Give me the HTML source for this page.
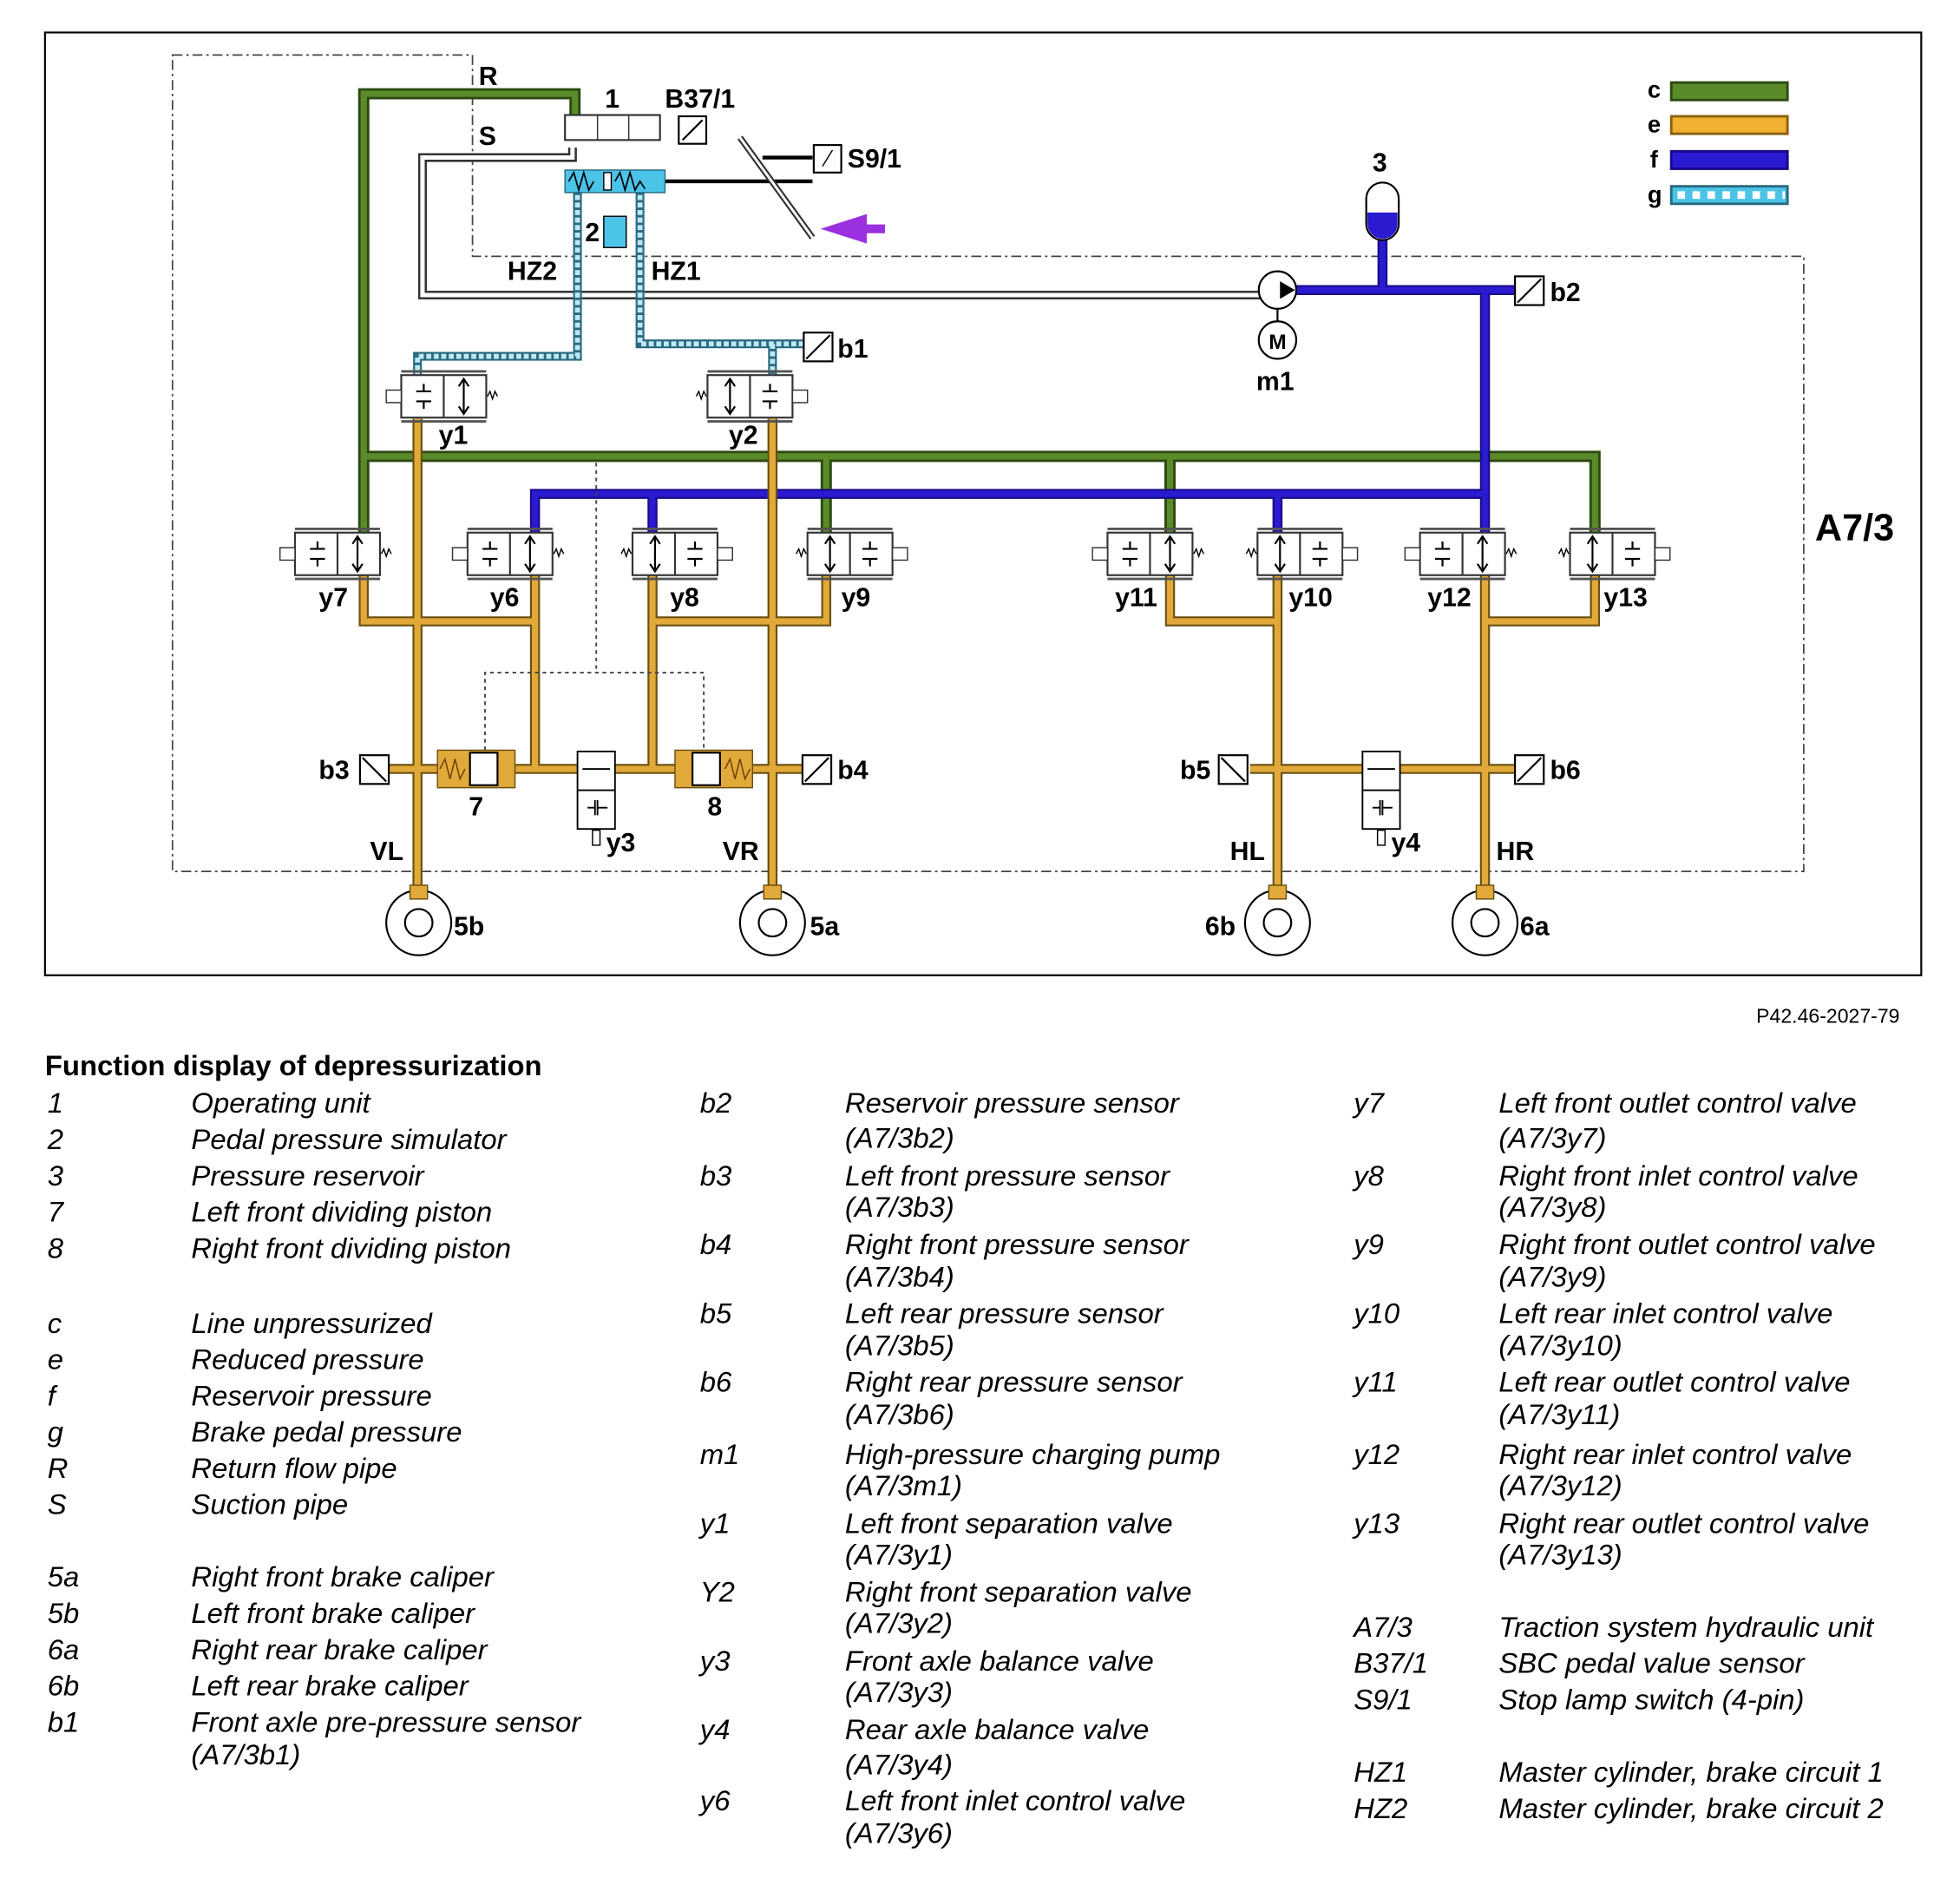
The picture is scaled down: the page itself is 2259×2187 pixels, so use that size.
<!DOCTYPE html>
<html><head><meta charset="utf-8"><style>
html,body{margin:0;padding:0;background:#fff}
svg{display:block}
text{font-family:"Liberation Sans",sans-serif}
.lb{font-weight:bold;font-size:21px}
.t{font-style:italic;font-size:22.8px}
.h{font-weight:bold;font-size:22.8px}
</style></head><body>
<svg width="2259" height="2187" viewBox="0 0 1568 1518" preserveAspectRatio="none" xmlns="http://www.w3.org/2000/svg">
<defs>
<g id="valve">
<rect x="-34" y="-17" width="68" height="34" fill="#fff" stroke="#333" stroke-width="1.5"/>
<line x1="0" y1="-17" x2="0" y2="17" stroke="#333" stroke-width="1.5"/>
<line x1="-34" y1="-20" x2="34" y2="-20" stroke="#555" stroke-width="2"/>
<line x1="-34" y1="20" x2="34" y2="20" stroke="#555" stroke-width="2"/>
<line x1="16" y1="-14" x2="16" y2="14" stroke="#000" stroke-width="1.5"/>
<path d="M12,-8 L16,-14 L20,-8 M12,8 L16,14 L20,8" fill="none" stroke="#000" stroke-width="1.5"/>
<path d="M-22,-4 h12 M-16,-4 v-6 M-22,4 h12 M-16,4 v6" stroke="#000" stroke-width="1.5" fill="none"/>
<rect x="-46" y="-5" width="12" height="10" fill="#fff" stroke="#333"/>
<path d="M35,0 l2,-4 l2,6 l2,-6 l2,4" fill="none" stroke="#000"/>
</g>
</defs>
<rect x="36" y="26" width="1501" height="754" fill="none" stroke="#000" stroke-width="1.5"/>
<path d="M138,44 H378 V205 H1443 V697 H138 Z" fill="none" stroke="#444" stroke-width="1.2" stroke-dasharray="8,3,2,3"/>
<text x="1452" y="432" class="lb" style="font-size:30px">A7/3</text>
<text x="383" y="68" class="lb">R</text><text x="383" y="116" class="lb">S</text>
<path d="M458,118 V126 H338 V236 H1010" fill="none" stroke="#333" stroke-width="7"/>
<path d="M458,118 V126 H338 V236 H1010" fill="none" stroke="#fff" stroke-width="3.5"/>
<g fill="none" stroke-linejoin="miter">
<path d="M460,95 V75 H291 V440 M291,365 H1276 V440 M661,365 V440 M936,365 V440" stroke="#2d4a10" stroke-width="9"/>
<path d="M460,95 V75 H291 V440 M291,365 H1276 V440 M661,365 V440 M936,365 V440" stroke="#5b8a2a" stroke-width="5"/>
<path d="M1106,170 V232 M1030,232 H1212 M1188,232 V440 M428,440 V395 H1188 M522,395 V440 M1022,395 V440" stroke="#1a0a8a" stroke-width="8"/>
<path d="M1106,170 V232 M1030,232 H1212 M1188,232 V440 M428,440 V395 H1188 M522,395 V440 M1022,395 V440" stroke="#2a1ad0" stroke-width="5"/>
<path d="M334,335 V712 M618,335 V712 M291,460 V497 H428 M428,460 V615 M522,460 V615 M522,497 H661 V460 M300,615 H650 M1022,460 V712 M1188,460 V712 M936,460 V497 H1022 M1188,497 H1276 V460 M1000,615 H1212" stroke="#6b5010" stroke-width="8"/>
<path d="M334,335 V712 M618,335 V712 M291,460 V497 H428 M428,460 V615 M522,460 V615 M522,497 H661 V460 M300,615 H650 M1022,460 V712 M1188,460 V712 M936,460 V497 H1022 M1188,497 H1276 V460 M1000,615 H1212" stroke="#e0a93a" stroke-width="5"/>
<path d="M462,150 V285 H334 V300 M512,150 V275 H643 M618,275 V300" stroke="#2a6a80" stroke-width="7"/>
<path d="M462,150 V285 H334 V300 M512,150 V275 H643 M618,275 V300" stroke="#bfe8f5" stroke-width="4" stroke-dasharray="4,2"/>
<path d="M530,145 H650 M610,126 H650" stroke="#000" stroke-width="3"/>
<path d="M592,110 L650,190" stroke="#333" stroke-width="5"/><path d="M592,110 L650,190" stroke="#fff" stroke-width="2"/>
</g>
<path d="M708,183 H690 V176 L668,183 L690,190 V183" fill="#9b30e0" stroke="#9b30e0" stroke-width="7"/>
<rect x="452" y="92" width="76" height="20" fill="#fff" stroke="#333" stroke-width="1.5"/>
<path d="M478,92 V112 M503,92 V112" stroke="#333"/>
<rect x="452" y="136" width="80" height="18" fill="#4cc4e8" stroke="#2a6a80"/>
<path d="M455,145 l4,-7 l4,14 l4,-14 l4,14 l4,-7 M492,145 l4,-7 l4,14 l4,-14 l4,14 l4,-7 l4,6" fill="none" stroke="#000" stroke-width="1.2"/>
<rect x="483" y="138" width="6" height="14" fill="#fff" stroke="#000"/>
<rect x="483" y="173" width="18" height="25" fill="#4cc4e8" stroke="#000"/>
<text x="468" y="193" class="lb">2</text>
<text x="484" y="86" class="lb">1</text>
<text x="532" y="86" class="lb">B37/1</text>
<rect x="543" y="93" width="22" height="22" fill="#fff" stroke="#000" stroke-width="1.5"/><path d="M546,112 L562,96" stroke="#000" stroke-width="1.5"/>
<rect x="651" y="116" width="22" height="22" fill="#fff" stroke="#000" stroke-width="1.5"/><path d="M658,133 L666,120" stroke="#000"/>
<text x="678" y="134" class="lb">S9/1</text>
<text x="406" y="224" class="lb">HZ2</text><text x="521" y="224" class="lb">HZ1</text>
<rect x="1093" y="146" width="26" height="46" rx="13" fill="#fff" stroke="#000" stroke-width="1.5"/>
<path d="M1094,170 H1118 V179 A12,12 0 0 1 1094,179 Z" fill="#2a1ad0"/>
<text x="1098" y="137" class="lb">3</text>
<circle cx="1022" cy="232" r="15" fill="#fff" stroke="#000" stroke-width="1.5"/><path d="M1024,225 L1036,232 L1024,239 Z" fill="#000"/>
<line x1="1022" y1="247" x2="1022" y2="257" stroke="#000" stroke-width="1.5"/>
<circle cx="1022" cy="272" r="15" fill="#fff" stroke="#000" stroke-width="1.5"/>
<text x="1015" y="279" class="lb" style="font-size:17px">M</text>
<text x="1005" y="312" class="lb">m1</text>
<g fill="#fff" stroke="#000" stroke-width="1.5">
<rect x="1212" y="221" width="23" height="23"/><rect x="643" y="266" width="23" height="23"/>
<rect x="288" y="604" width="23" height="23"/><rect x="642" y="604" width="23" height="23"/>
<rect x="975" y="604" width="23" height="23"/><rect x="1212" y="604" width="23" height="23"/>
</g>
<path d="M1214,242 L1233,223 M645,287 L664,268 M290,606 L309,625 M644,625 L663,606 M977,606 L996,625 M1214,625 L1233,606" stroke="#000" stroke-width="1.5"/>
<text x="1240" y="241" class="lb">b2</text><text x="670" y="286" class="lb">b1</text>
<text x="255" y="623" class="lb">b3</text><text x="670" y="623" class="lb">b4</text>
<text x="944" y="623" class="lb">b5</text><text x="1240" y="623" class="lb">b6</text>
<use href="#valve" x="355" y="317"/><use href="#valve" x="600" y="317" transform="translate(1200,0) scale(-1,1)" />
<use href="#valve" x="270" y="443"/><use href="#valve" x="408" y="443"/>
<use href="#valve" x="540" y="443" transform="translate(1080,0) scale(-1,1)"/><use href="#valve" x="680" y="443" transform="translate(1360,0) scale(-1,1)"/>
<use href="#valve" x="920" y="443"/><use href="#valve" x="1040" y="443" transform="translate(2080,0) scale(-1,1)"/>
<use href="#valve" x="1170" y="443"/><use href="#valve" x="1290" y="443" transform="translate(2580,0) scale(-1,1)"/>
<text x="351" y="355" class="lb">y1</text><text x="583" y="355" class="lb">y2</text>
<text x="255" y="485" class="lb">y7</text><text x="392" y="485" class="lb">y6</text><text x="536" y="485" class="lb">y8</text><text x="673" y="485" class="lb">y9</text>
<text x="892" y="485" class="lb">y11</text><text x="1031" y="485" class="lb">y10</text><text x="1142" y="485" class="lb">y12</text><text x="1283" y="485" class="lb">y13</text>
<rect x="350" y="600" width="62" height="30" fill="#e0a93a" stroke="#6b5010"/>
<rect x="376" y="602" width="22" height="26" fill="#fff" stroke="#000" stroke-width="1.5"/>
<path d="M352,615 l4,-8 l4,16 l4,-16 l4,16 l4,-8" fill="none" stroke="#6b3a00"/>
<rect x="540" y="600" width="62" height="30" fill="#e0a93a" stroke="#6b5010"/>
<rect x="554" y="602" width="22" height="26" fill="#fff" stroke="#000" stroke-width="1.5"/>
<path d="M580,615 l4,-8 l4,16 l4,-16 l4,16 l4,-8" fill="none" stroke="#6b3a00"/>
<text x="375" y="652" class="lb">7</text><text x="566" y="652" class="lb">8</text>
<path d="M388,600 V538 H563 V600 M477,370 V538" fill="none" stroke="#444" stroke-width="1.3" stroke-dasharray="3,3"/>
<g fill="#fff" stroke="#000" stroke-width="1.3">
<rect x="462" y="601" width="30" height="62"/><line x1="462" y1="632" x2="492" y2="632"/>
<rect x="1090" y="601" width="30" height="62"/><line x1="1090" y1="632" x2="1120" y2="632"/>
</g>
<path d="M466,615 H488 M470,646 H476 M478,646 H486 M476,640 V652 M478,640 V652 M1094,615 H1116 M1098,646 H1104 M1106,646 H1114 M1104,640 V652 M1106,640 V652" stroke="#000" stroke-width="1.3"/>
<text x="485" y="681" class="lb">y3</text><text x="1113" y="681" class="lb">y4</text>
<rect x="474" y="664" width="6" height="12" fill="#fff" stroke="#000"/><rect x="1102" y="664" width="6" height="12" fill="#fff" stroke="#000"/>
<text x="296" y="688" class="lb">VL</text><text x="578" y="688" class="lb">VR</text>
<text x="984" y="688" class="lb">HL</text><text x="1197" y="688" class="lb">HR</text>
<g fill="#fff" stroke="#000" stroke-width="1.5">
<circle cx="335" cy="738" r="26"/><circle cx="335" cy="738" r="11"/>
<circle cx="618" cy="738" r="26"/><circle cx="618" cy="738" r="11"/>
<circle cx="1022" cy="738" r="26"/><circle cx="1022" cy="738" r="11"/>
<circle cx="1188" cy="738" r="26"/><circle cx="1188" cy="738" r="11"/>
</g>
<g fill="#e0a93a" stroke="#6b5010"><rect x="328" y="708" width="14" height="11"/><rect x="611" y="708" width="14" height="11"/><rect x="1015" y="708" width="14" height="11"/><rect x="1181" y="708" width="14" height="11"/></g>
<text x="363" y="748" class="lb">5b</text><text x="648" y="748" class="lb">5a</text><text x="964" y="748" class="lb">6b</text><text x="1216" y="748" class="lb">6a</text>
<text x="1318" y="78" class="lb" style="font-size:19px">c</text><rect x="1337" y="66" width="93" height="14" fill="#5b8a2a" stroke="#2d4a10" stroke-width="2"/>
<text x="1318" y="106" class="lb" style="font-size:19px">e</text><rect x="1337" y="93" width="93" height="14" fill="#f0b030" stroke="#8a6010" stroke-width="2"/>
<text x="1320" y="134" class="lb" style="font-size:19px">f</text><rect x="1337" y="121" width="93" height="14" fill="#2a1ad0" stroke="#1a0a8a" stroke-width="2"/>
<text x="1318" y="162" class="lb" style="font-size:19px">g</text><rect x="1337" y="149" width="93" height="14" fill="#4cc4e8" stroke="#2a6a80" stroke-width="2"/>
<path d="M1342,156 H1428" stroke="#fff" stroke-width="6" stroke-dasharray="6,6"/>
<text x="1405" y="818" style="font-size:16px">P42.46-2027-79</text>
<text x="36" y="860" class="h">Function display of depressurization</text>
<text x="38" y="890" class="t">1</text><text x="153" y="890" class="t">Operating unit</text>
<text x="38" y="919" class="t">2</text><text x="153" y="919" class="t">Pedal pressure simulator</text>
<text x="38" y="948" class="t">3</text><text x="153" y="948" class="t">Pressure reservoir</text>
<text x="38" y="977" class="t">7</text><text x="153" y="977" class="t">Left front dividing piston</text>
<text x="38" y="1006" class="t">8</text><text x="153" y="1006" class="t">Right front dividing piston</text>
<text x="38" y="1066" class="t">c</text><text x="153" y="1066" class="t">Line unpressurized</text>
<text x="38" y="1095" class="t">e</text><text x="153" y="1095" class="t">Reduced pressure</text>
<text x="38" y="1124" class="t">f</text><text x="153" y="1124" class="t">Reservoir pressure</text>
<text x="38" y="1153" class="t">g</text><text x="153" y="1153" class="t">Brake pedal pressure</text>
<text x="38" y="1182" class="t">R</text><text x="153" y="1182" class="t">Return flow pipe</text>
<text x="38" y="1211" class="t">S</text><text x="153" y="1211" class="t">Suction pipe</text>
<text x="38" y="1269" class="t">5a</text><text x="153" y="1269" class="t">Right front brake caliper</text>
<text x="38" y="1298" class="t">5b</text><text x="153" y="1298" class="t">Left front brake caliper</text>
<text x="38" y="1327" class="t">6a</text><text x="153" y="1327" class="t">Right rear brake caliper</text>
<text x="38" y="1356" class="t">6b</text><text x="153" y="1356" class="t">Left rear brake caliper</text>
<text x="38" y="1385" class="t">b1</text><text x="153" y="1385" class="t">Front axle pre-pressure sensor</text>
<text x="153" y="1411" class="t">(A7/3b1)</text>
<text x="560" y="890" class="t">b2</text><text x="676" y="890" class="t">Reservoir pressure sensor</text><text x="676" y="918" class="t">(A7/3b2)</text>
<text x="560" y="948" class="t">b3</text><text x="676" y="948" class="t">Left front pressure sensor</text><text x="676" y="973" class="t">(A7/3b3)</text>
<text x="560" y="1003" class="t">b4</text><text x="676" y="1003" class="t">Right front pressure sensor</text><text x="676" y="1029" class="t">(A7/3b4)</text>
<text x="560" y="1058" class="t">b5</text><text x="676" y="1058" class="t">Left rear pressure sensor</text><text x="676" y="1084" class="t">(A7/3b5)</text>
<text x="560" y="1113" class="t">b6</text><text x="676" y="1113" class="t">Right rear pressure sensor</text><text x="676" y="1139" class="t">(A7/3b6)</text>
<text x="560" y="1171" class="t">m1</text><text x="676" y="1171" class="t">High-pressure charging pump</text><text x="676" y="1196" class="t">(A7/3m1)</text>
<text x="560" y="1226" class="t">y1</text><text x="676" y="1226" class="t">Left front separation valve</text><text x="676" y="1251" class="t">(A7/3y1)</text>
<text x="560" y="1281" class="t">Y2</text><text x="676" y="1281" class="t">Right front separation valve</text><text x="676" y="1306" class="t">(A7/3y2)</text>
<text x="560" y="1336" class="t">y3</text><text x="676" y="1336" class="t">Front axle balance valve</text><text x="676" y="1361" class="t">(A7/3y3)</text>
<text x="560" y="1391" class="t">y4</text><text x="676" y="1391" class="t">Rear axle balance valve</text><text x="676" y="1419" class="t">(A7/3y4)</text>
<text x="560" y="1448" class="t">y6</text><text x="676" y="1448" class="t">Left front inlet control valve</text><text x="676" y="1474" class="t">(A7/3y6)</text>
<text x="1083" y="890" class="t">y7</text><text x="1199" y="890" class="t">Left front outlet control valve</text><text x="1199" y="918" class="t">(A7/3y7)</text>
<text x="1083" y="948" class="t">y8</text><text x="1199" y="948" class="t">Right front inlet control valve</text><text x="1199" y="973" class="t">(A7/3y8)</text>
<text x="1083" y="1003" class="t">y9</text><text x="1199" y="1003" class="t">Right front outlet control valve</text><text x="1199" y="1029" class="t">(A7/3y9)</text>
<text x="1083" y="1058" class="t">y10</text><text x="1199" y="1058" class="t">Left rear inlet control valve</text><text x="1199" y="1084" class="t">(A7/3y10)</text>
<text x="1083" y="1113" class="t">y11</text><text x="1199" y="1113" class="t">Left rear outlet control valve</text><text x="1199" y="1139" class="t">(A7/3y11)</text>
<text x="1083" y="1171" class="t">y12</text><text x="1199" y="1171" class="t">Right rear inlet control valve</text><text x="1199" y="1196" class="t">(A7/3y12)</text>
<text x="1083" y="1226" class="t">y13</text><text x="1199" y="1226" class="t">Right rear outlet control valve</text><text x="1199" y="1251" class="t">(A7/3y13)</text>
<text x="1083" y="1309" class="t">A7/3</text><text x="1199" y="1309" class="t">Traction system hydraulic unit</text>
<text x="1083" y="1338" class="t">B37/1</text><text x="1199" y="1338" class="t">SBC pedal value sensor</text>
<text x="1083" y="1367" class="t">S9/1</text><text x="1199" y="1367" class="t">Stop lamp switch (4-pin)</text>
<text x="1083" y="1425" class="t">HZ1</text><text x="1199" y="1425" class="t">Master cylinder, brake circuit 1</text>
<text x="1083" y="1454" class="t">HZ2</text><text x="1199" y="1454" class="t">Master cylinder, brake circuit 2</text>
</svg>
</body></html>
